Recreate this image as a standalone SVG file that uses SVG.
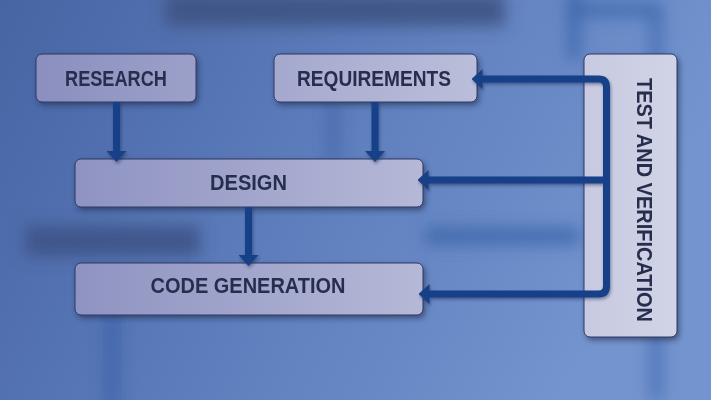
<svg xmlns="http://www.w3.org/2000/svg" width="711" height="400" viewBox="0 0 711 400">
  <defs>
    <linearGradient id="bg" x1="0" y1="0" x2="1" y2="0.3">
      <stop offset="0" stop-color="#4764a3"/>
      <stop offset="0.5" stop-color="#5c7cbb"/>
      <stop offset="1" stop-color="#7494cf"/>
    </linearGradient>
    <linearGradient id="boxfill" gradientUnits="userSpaceOnUse" x1="0" y1="0" x2="711" y2="0">
      <stop offset="0" stop-color="#868bbd"/>
      <stop offset="1" stop-color="#d5d7e8"/>
    </linearGradient>
    <filter id="blur" x="-30%" y="-60%" width="160%" height="220%">
      <feGaussianBlur stdDeviation="8"/>
    </filter>
    <filter id="shadow" x="-20%" y="-20%" width="140%" height="150%">
      <feDropShadow dx="2" dy="3" stdDeviation="2.5" flood-color="#1a2548" flood-opacity="0.55"/>
    </filter>
    <filter id="lshadow" x="-10%" y="-30%" width="120%" height="160%">
      <feDropShadow dx="1" dy="2" stdDeviation="1.5" flood-color="#1a2548" flood-opacity="0.45"/>
    </filter>
    <marker id="ah" viewBox="0 0 11 20" refX="0.5" refY="10" markerWidth="11" markerHeight="20" markerUnits="userSpaceOnUse" orient="auto">
      <path d="M0,0 L11,10 L0,20 Z" fill="#183f87"/>
    </marker>
    <style>
      .box { fill: url(#boxfill); stroke: #2f3963; stroke-width: 1; filter: url(#shadow); }
      .lbl { font-family: "Liberation Sans", Arial, sans-serif; font-weight: bold; font-size: 22px; fill: #272d4d; text-anchor: middle; dominant-baseline: central; }
      .conn { fill: none; stroke: #183f87; stroke-width: 7; }
      .ghost { filter: url(#blur); }
    </style>
  </defs>

  <!-- background -->
  <rect x="0" y="0" width="711" height="400" fill="url(#bg)"/>
  <g class="ghost">
    <rect x="165" y="-6" width="340" height="32" fill="#3e5383" opacity="0.9"/>
    <rect x="568" y="-10" width="12" height="70" fill="#3761a8" opacity="0.8"/>
    <rect x="568" y="4" width="92" height="12" fill="#3761a8" opacity="0.8"/>
    <rect x="650" y="4" width="12" height="396" fill="#3c64aa" opacity="0.7"/>
    <rect x="25" y="226" width="175" height="30" fill="#3d5387" opacity="0.9"/>
    <rect x="425" y="228" width="155" height="16" fill="#3761a8" opacity="0.8"/>
    <rect x="328" y="100" width="10" height="62" fill="#3d62a6" opacity="0.8"/>
    <rect x="106" y="310" width="12" height="100" fill="#3660a6" opacity="0.8"/>
  </g>

  <!-- nodes -->
  <g id="research">
    <rect class="box" x="36" y="54" width="160" height="48" rx="6"/>
    <text class="lbl" x="116" y="78" textLength="102" lengthAdjust="spacingAndGlyphs">RESEARCH</text>
  </g>
  <g id="requirements">
    <rect class="box" x="274" y="54" width="203" height="48" rx="6"/>
    <text class="lbl" x="374" y="78" textLength="154" lengthAdjust="spacingAndGlyphs">REQUIREMENTS</text>
  </g>
  <g id="design">
    <rect class="box" x="75" y="159" width="348" height="48" rx="6"/>
    <text class="lbl" x="248.5" y="182" textLength="77" lengthAdjust="spacingAndGlyphs">DESIGN</text>
  </g>
  <g id="code-generation">
    <rect class="box" x="75" y="263" width="348" height="52" rx="6"/>
    <text class="lbl" x="248" y="285" textLength="195" lengthAdjust="spacingAndGlyphs">CODE GENERATION</text>
  </g>
  <g id="test-verification">
    <rect class="box" x="584" y="54" width="93" height="283" rx="6"/>
    <text class="lbl" transform="translate(644 200) rotate(90)" x="0" y="0" textLength="244" lengthAdjust="spacingAndGlyphs">TEST AND VERIFICATION</text>
  </g>

  <!-- connectors -->
  <g id="connectors" filter="url(#lshadow)">
    <path class="conn" d="M116.5 102 V151.5" marker-end="url(#ah)"/>
    <path class="conn" d="M375 102 V151.5" marker-end="url(#ah)"/>
    <path class="conn" d="M248.5 207 V255.5" marker-end="url(#ah)"/>
    <path class="conn" d="M606.5 180 V87 Q606.5 79 598.5 79 H482" marker-end="url(#ah)"/>
    <path class="conn" d="M606.5 180 H428" marker-end="url(#ah)"/>
    <path class="conn" d="M606.5 180 V286 Q606.5 294 598.5 294 H429" marker-end="url(#ah)"/>
  </g>
</svg>
